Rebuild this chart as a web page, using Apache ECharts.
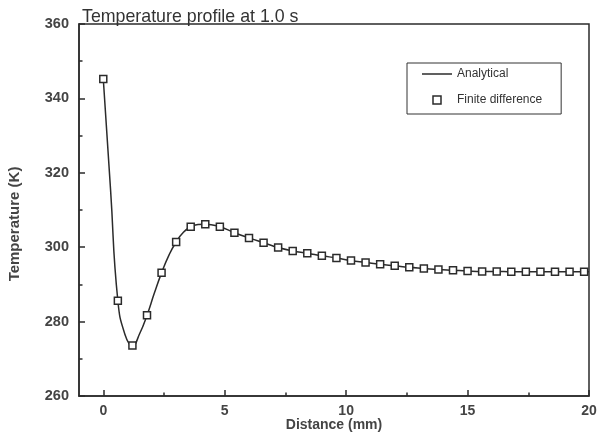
<!DOCTYPE html>
<html>
<head>
<meta charset="utf-8">
<script src="https://cdn.jsdelivr.net/npm/echarts@6/dist/echarts.min.js"></script>
<style>
html,body{margin:0;padding:0;background:#fff;}
#chart{width:599px;height:437px;}
</style>
</head>
<body>
<div id="chart"></div>
<script>
// Data
var distance = [0, 0.6, 1.2, 1.8, 2.4, 3.0, 3.6, 4.2, 4.8, 5.4, 6.0, 6.6, 7.2, 7.8, 8.4, 9.0, 9.6, 10.2, 10.8, 11.4, 12.0, 12.6, 13.2, 13.8, 14.4, 15.0, 15.6, 16.2, 16.8, 17.4, 18.0, 18.6, 19.2, 19.8];
var finiteDifference = [345.2, 285.6, 273.6, 281.7, 293.1, 301.4, 305.5, 306.2, 305.5, 303.9, 302.5, 301.2, 299.9, 299.0, 298.4, 297.7, 297.1, 296.4, 295.9, 295.4, 295.0, 294.6, 294.3, 294.0, 293.8, 293.6, 293.5, 293.5, 293.4, 293.4, 293.4, 293.4, 293.4, 293.4];
var analyticalX = [0, 0.3, 0.6, 0.9, 1.2, 1.5, 1.8, 2.1, 2.4, 2.7, 3.0, 3.3, 3.6, 3.9, 4.2, 4.8, 5.4, 6.0, 6.6, 7.2, 7.8, 8.4, 9.0, 9.6, 10.2, 10.8, 11.4, 12.0, 12.6, 13.2, 13.8, 14.4, 15.0, 15.6, 16.2, 16.8, 17.4, 18.0, 18.6, 19.2, 19.8, 20];
var analyticalT = [345.2, 315.4, 285.6, 276.4, 273.5, 276.8, 281.7, 287.6, 293.1, 297.8, 301.4, 304.0, 305.5, 306.1, 306.2, 305.5, 303.9, 302.5, 301.2, 299.9, 299.0, 298.4, 297.7, 297.1, 296.4, 295.9, 295.4, 295.0, 294.6, 294.3, 294.0, 293.8, 293.6, 293.5, 293.5, 293.4, 293.4, 293.4, 293.4, 293.4, 293.4, 293.4];
var xMajorTicks = [0, 5, 10, 15, 20];
var xMinorTicks = [2.5, 7.5, 12.5, 17.5];
var titleText = 'Temperature profile at 1.0 s';
var seriesNames = ['Analytical', 'Finite difference'];

function pairs(xs, ys) {
  var out = [];
  for (var i = 0; i < xs.length; i++) out.push([xs[i], ys[i]]);
  return out;
}

var FONT = "'Liberation Sans', Arial, sans-serif";
var INK = '#2b2b2b';
var chart = echarts.init(document.getElementById('chart'), null, {renderer: 'canvas'});
chart.setOption({
  backgroundColor: '#ffffff',
  animation: false,
  title: {
    text: titleText,
    left: 82,
    top: 8,
    padding: 0,
    textStyle: {fontFamily: FONT, fontSize: 17.8, fontWeight: 'normal', color: '#333'}
  },
  legend: {
    orient: 'vertical',
    left: 407,
    top: 63,
    padding: [5, 19, 8, 15],
    itemWidth: 30,
    itemHeight: 8,
    itemGap: 14,
    borderColor: '#333',
    borderWidth: 1,
    textStyle: {fontFamily: FONT, fontSize: 12, color: '#333'},
    data: [
      {name: seriesNames[0], icon: 'path://M0,0 L30,0 L30,1.5 L0,1.5 Z', itemStyle: {color: INK, borderWidth: 0}},
      {name: seriesNames[1], icon: 'path://M0,0 L10,0 L10,10 L0,10 Z', itemStyle: {color: '#fff', borderColor: INK, borderWidth: 1.5}}
    ]
  },
  grid: {
    left: 79, right: 10, top: 24, bottom: 41,
    outerBoundsMode: 'none',
    containLabel: false,
    show: true, borderColor: INK, borderWidth: 1.5, backgroundColor: 'transparent'
  },
  xAxis: [{
    type: 'value', min: -1, max: 20, position: 'bottom',
    name: 'Distance (mm)', nameLocation: 'middle', nameGap: 22, nameMoveOverlap: false,
    nameTextStyle: {fontFamily: FONT, fontSize: 14, fontWeight: 'bold', color: '#444'},
    axisLine: {show: true, onZero: false, lineStyle: {color: INK, width: 1.5}},
    axisTick: {show: true, inside: true, length: 6, customValues: xMajorTicks, lineStyle: {color: INK, width: 1.5}},
    axisLabel: {show: true, customValues: xMajorTicks, margin: 8, fontFamily: FONT, fontSize: 14, fontWeight: 'bold', color: '#444'},
    splitLine: {show: false}
  }, {
    type: 'value', min: -1, max: 20, position: 'bottom',
    axisLine: {show: false, onZero: false},
    axisTick: {show: true, inside: true, length: 3.5, customValues: xMinorTicks, lineStyle: {color: INK, width: 1.5}},
    axisLabel: {show: false},
    splitLine: {show: false}
  }],
  yAxis: {
    type: 'value', min: 260, max: 360, interval: 20,
    name: 'Temperature (K)', nameLocation: 'middle', nameGap: 57, nameMoveOverlap: false,
    nameTextStyle: {fontFamily: FONT, fontSize: 15, fontWeight: 'bold', color: '#444', padding: [0, 28, 0, 0]},
    axisLine: {show: true, onZero: false, lineStyle: {color: INK, width: 1.5}},
    axisTick: {show: true, inside: true, length: 6, lineStyle: {color: INK, width: 1.5}},
    minorTick: {show: true, splitNumber: 2, length: 3.5, lineStyle: {color: INK, width: 1.5}},
    axisLabel: {margin: 10, fontFamily: FONT, fontSize: 14.5, fontWeight: 'bold', color: '#444'},
    splitLine: {show: false}
  },
  series: [{
    name: seriesNames[0],
    type: 'line',
    xAxisIndex: 0,
    data: pairs(analyticalX, analyticalT),
    smooth: 0.5,
    symbol: 'none',
    lineStyle: {color: INK, width: 1.5},
    itemStyle: {color: INK},
    z: 2
  }, {
    name: seriesNames[1],
    type: 'scatter',
    xAxisIndex: 0,
    data: pairs(distance, finiteDifference),
    symbol: 'rect',
    symbolSize: 7,
    itemStyle: {color: '#ffffff', borderColor: INK, borderWidth: 1.5, opacity: 1},
    z: 3
  }]
});
</script>
</body>
</html>
